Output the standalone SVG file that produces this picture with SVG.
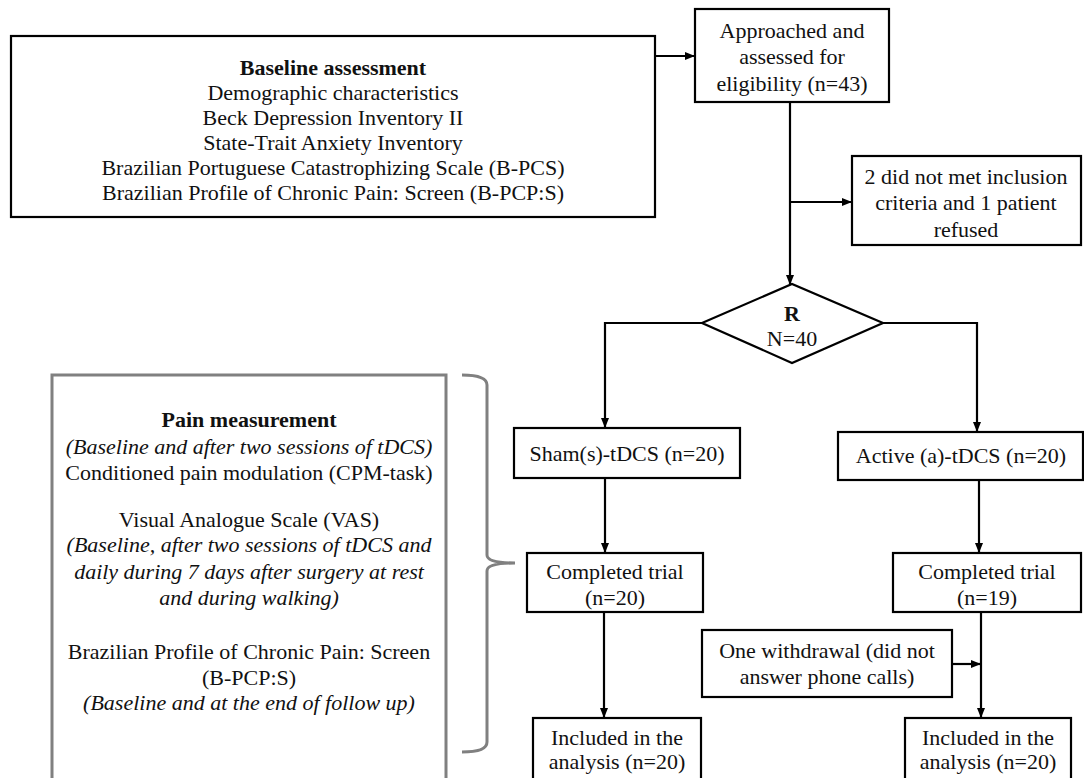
<svg xmlns="http://www.w3.org/2000/svg" width="1084" height="778" viewBox="0 0 1084 778">
<defs>
<marker id="ah" markerWidth="10" markerHeight="8" refX="9" refY="4" orient="auto" markerUnits="userSpaceOnUse">
<path d="M0,0 L10,4 L0,8 Z" fill="#000"/>
</marker>
<style>
.box{fill:#fff;stroke:#000;stroke-width:2.2}
.gbox{fill:#fff;stroke:#808080;stroke-width:3}
.t{font-family:"Liberation Serif","Times New Roman",serif;font-size:22px;fill:#111;text-anchor:middle}
.b{font-weight:bold}
.i{font-style:italic}
.ln{fill:none;stroke:#000;stroke-width:2.2}
</style>
</defs>
<rect width="1084" height="778" fill="#fff"/>

<g id="connectors">
<path class="ln" d="M655,56 H694" marker-end="url(#ah)"/>
<path class="ln" d="M790,102 V284" marker-end="url(#ah)"/>
<path class="ln" d="M790,202 H851" marker-end="url(#ah)"/>
<path class="ln" d="M702,323 H605 V427" marker-end="url(#ah)"/>
<path class="ln" d="M883,323 H977 V431" marker-end="url(#ah)"/>
<path class="ln" d="M605,478 V552" marker-end="url(#ah)"/>
<path class="ln" d="M979,480 V552" marker-end="url(#ah)"/>
<path class="ln" d="M604,612 V717" marker-end="url(#ah)"/>
<path class="ln" d="M981,612 V717" marker-end="url(#ah)"/>
<path class="ln" d="M952,664 H980" marker-end="url(#ah)"/>
</g>

<g id="baseline">
<rect class="box" x="11" y="36" width="644" height="181"/>
<text class="t b" x="333" y="75">Baseline assessment</text>
<text class="t" x="333" y="100">Demographic characteristics</text>
<text class="t" x="333" y="125">Beck Depression Inventory II</text>
<text class="t" x="333" y="150">State-Trait Anxiety Inventory</text>
<text class="t" x="333" y="175">Brazilian Portuguese Catastrophizing Scale (B-PCS)</text>
<text class="t" x="333" y="200">Brazilian Profile of Chronic Pain: Screen (B-PCP:S)</text>
</g>

<g id="approached">
<rect class="box" x="695" y="9" width="194" height="93"/>
<text class="t" x="792" y="38">Approached and</text>
<text class="t" x="792" y="64">assessed for</text>
<text class="t" x="792" y="91">eligibility  (n=43)</text>
</g>

<g id="excluded">
<rect class="box" x="852" y="156" width="229" height="89"/>
<text class="t" x="966" y="184">2 did not met inclusion</text>
<text class="t" x="966" y="210">criteria and 1 patient</text>
<text class="t" x="966" y="237">refused</text>
</g>

<g id="random">
<polygon class="box" points="702,323 792,284 883,323 792,363"/>
<text class="t b" x="792" y="321">R</text>
<text class="t" x="792" y="346">N=40</text>
</g>

<g id="sham">
<rect class="box" x="514" y="428" width="226" height="50"/>
<text class="t" x="627" y="461">Sham(s)-tDCS (n=20)</text>
</g>

<g id="active">
<rect class="box" x="838" y="432" width="245" height="48"/>
<text class="t" x="961" y="463">Active (a)-tDCS (n=20)</text>
</g>

<g id="completed-sham">
<rect class="box" x="527" y="553" width="176" height="59"/>
<text class="t" x="615" y="579">Completed trial</text>
<text class="t" x="615" y="605">(n=20)</text>
</g>

<g id="completed-active">
<rect class="box" x="893" y="553" width="188" height="59"/>
<text class="t" x="987" y="579">Completed trial</text>
<text class="t" x="987" y="605">(n=19)</text>
</g>

<g id="withdrawal">
<rect class="box" x="702" y="630" width="250" height="67"/>
<text class="t" x="827" y="658">One withdrawal (did not</text>
<text class="t" x="827" y="684">answer phone calls)</text>
</g>

<g id="included-sham">
<rect class="box" x="533" y="718" width="168" height="64"/>
<text class="t" x="617" y="745">Included in the</text>
<text class="t" x="617" y="769">analysis (n=20)</text>
</g>

<g id="included-active">
<rect class="box" x="905" y="718" width="166" height="64"/>
<text class="t" x="988" y="745">Included in the</text>
<text class="t" x="988" y="769">analysis (n=20)</text>
</g>

<g id="pain">
<rect class="gbox" x="52" y="375" width="394" height="410"/>
<text class="t b" x="249" y="427">Pain measurement</text>
<text class="t i" x="249" y="454">(Baseline and after two sessions of tDCS)</text>
<text class="t" x="249" y="480">Conditioned pain modulation (CPM-task)</text>
<text class="t" x="249" y="527">Visual Analogue Scale (VAS)</text>
<text class="t i" x="249" y="552">(Baseline, after two sessions of tDCS and</text>
<text class="t i" x="249" y="579">daily during 7 days after surgery at rest</text>
<text class="t i" x="249" y="605">and during walking)</text>
<text class="t" x="249" y="659">Brazilian Profile of Chronic Pain: Screen</text>
<text class="t" x="249" y="685">(B-PCP:S)</text>
<text class="t i" x="249" y="710">(Baseline and at the end of follow up)</text>
</g>

<g id="brace">
<path d="M462,375 Q487,375 487,385 V555 Q487,563 515,563 Q487,563 487,571 V742 Q487,752 462,752" fill="none" stroke="#808080" stroke-width="3"/>
</g>
</svg>
